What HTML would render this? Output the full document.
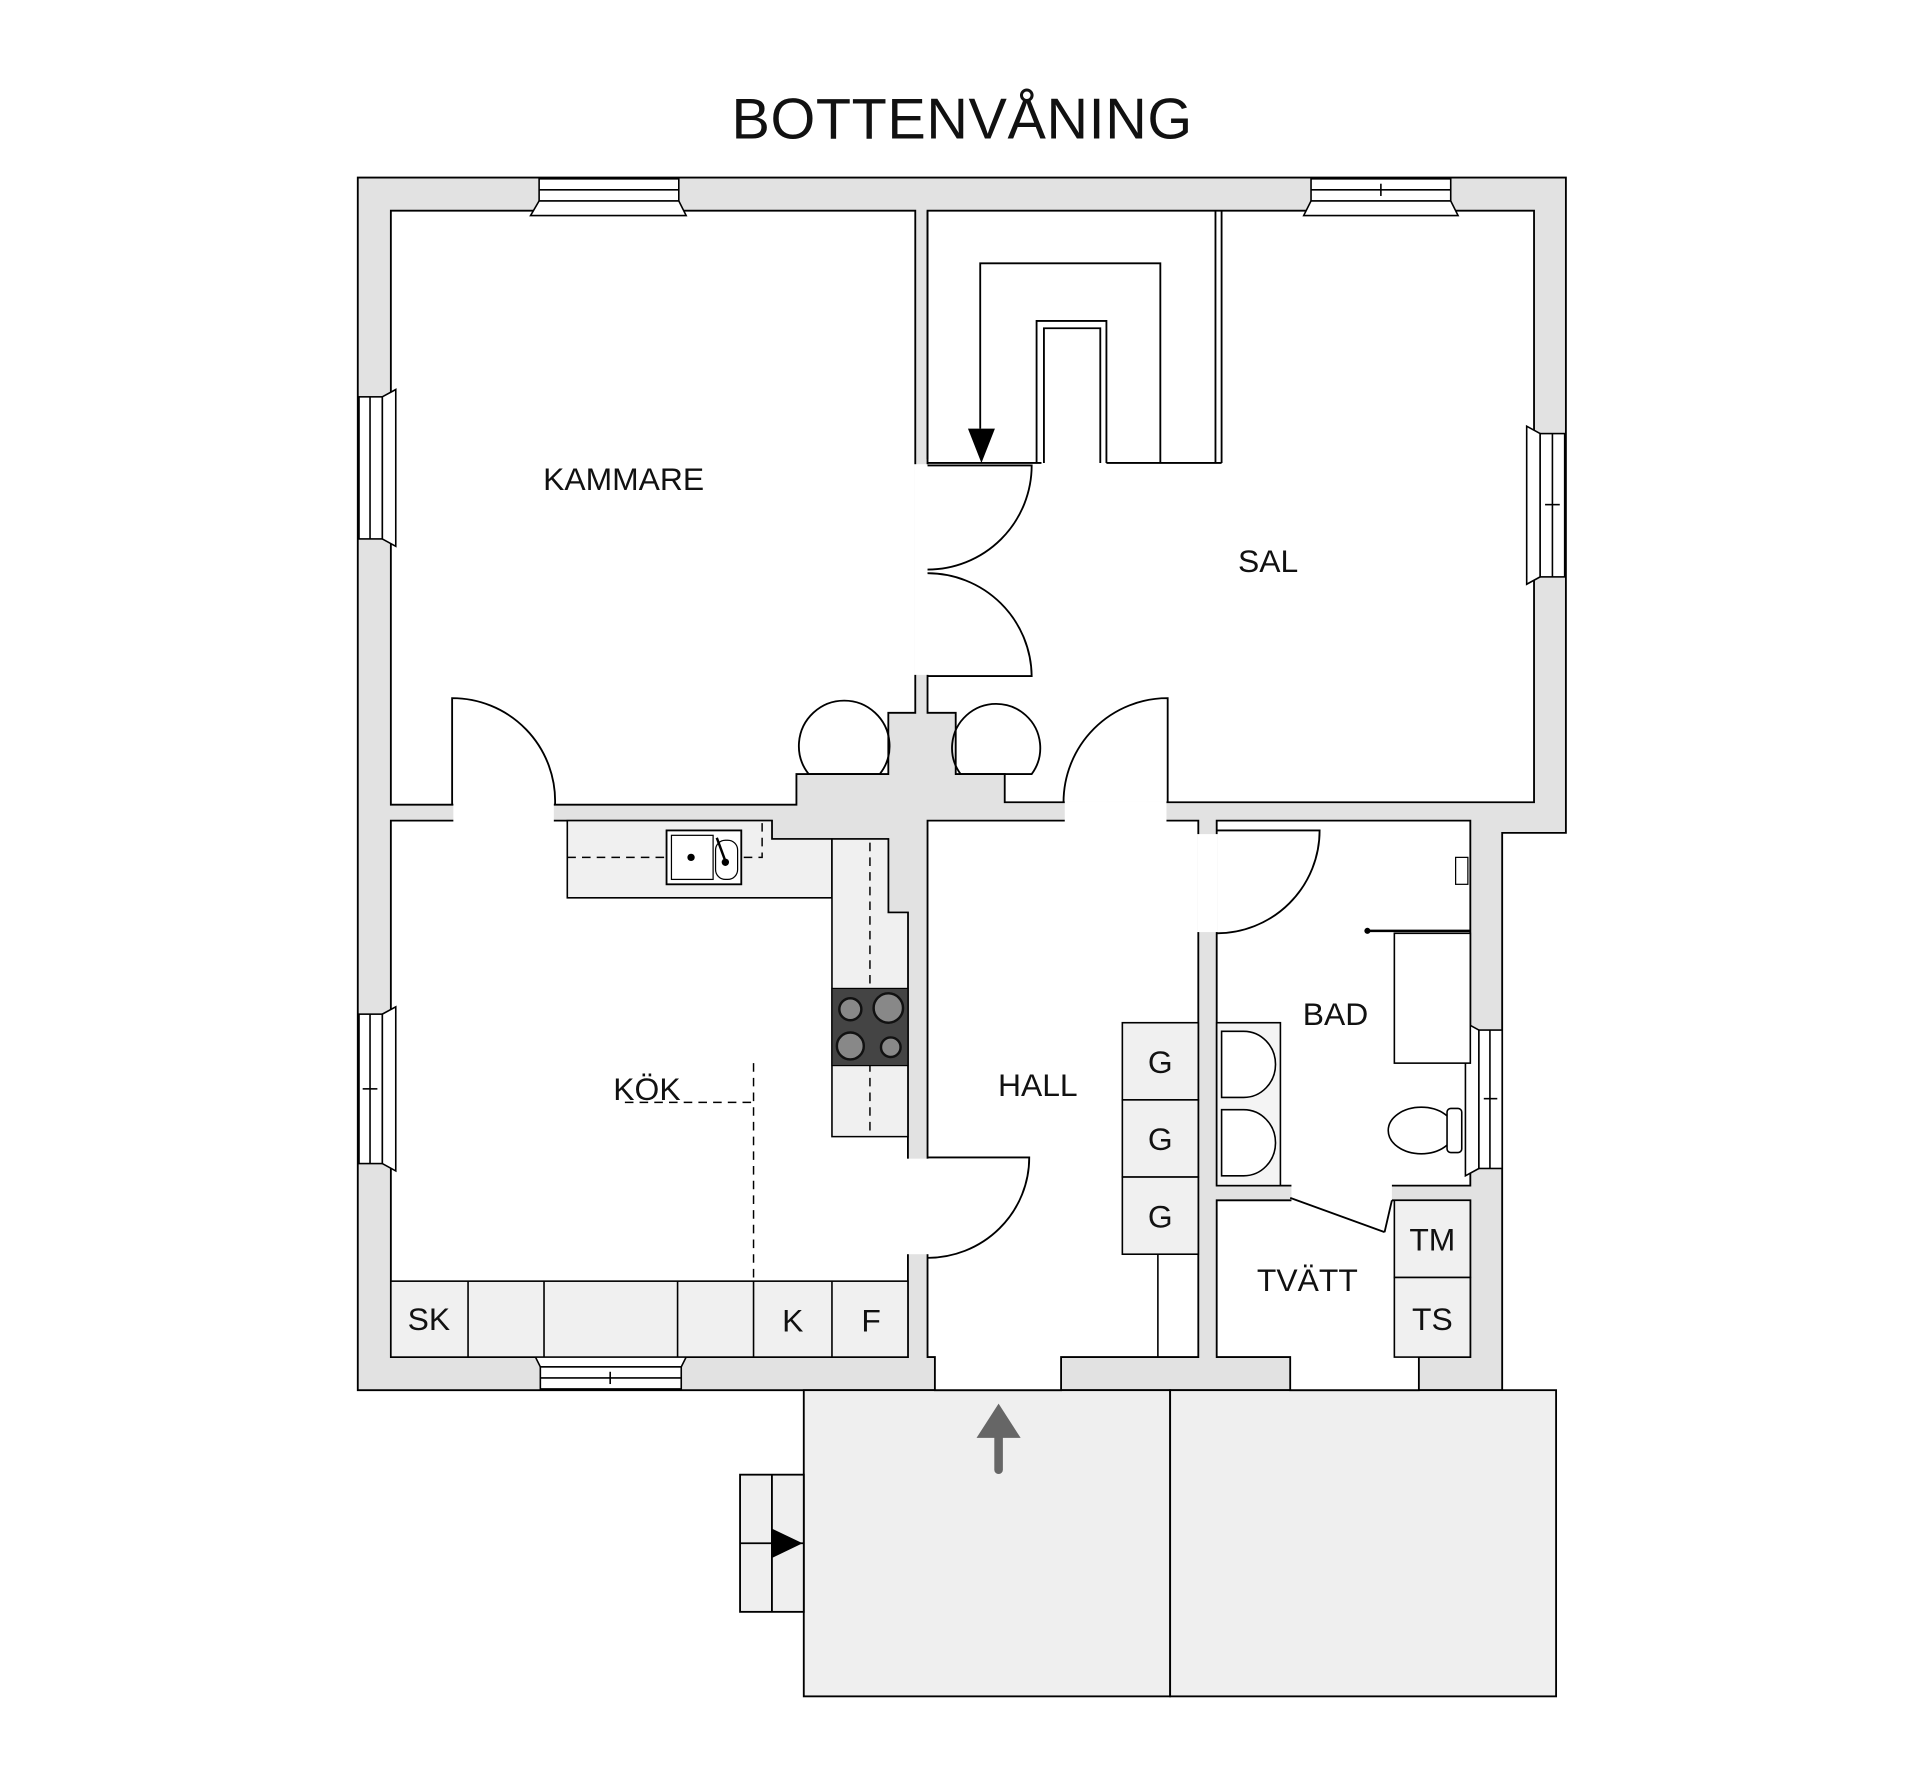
<!DOCTYPE html>
<html><head><meta charset="utf-8"><style>
html,body{margin:0;padding:0;background:#fff;}
svg{display:block;}
text{font-family:"Liberation Sans",sans-serif;fill:#111;}
</style></head><body>
<svg width="1920" height="1787" viewBox="0 0 1567 1459" preserveAspectRatio="none" xmlns="http://www.w3.org/2000/svg">
<rect width="1567" height="1459" fill="#fff"/>
<text x="785" y="113" font-size="47" text-anchor="middle" textLength="376">BOTTENVÅNING</text>

<polygon points="292,145 1278,145 1278,680 1226,680 1226,1135 292,1135" fill="#e2e2e2" stroke="#000" stroke-width="1.5"/>

<rect x="656" y="1135" width="299" height="250" fill="#efefef" stroke="#000" stroke-width="1.5"/>
<rect x="955" y="1135" width="315" height="250" fill="#efefef" stroke="#000" stroke-width="1.5"/>
<rect x="604" y="1204" width="52" height="112" fill="#efefef" stroke="#000" stroke-width="1.5"/>
<line x1="630" y1="1204" x2="630" y2="1316" stroke="#000" stroke-width="1.5"/>
<line x1="604" y1="1260" x2="656" y2="1260" stroke="#000" stroke-width="1.5"/>
<polygon points="630,1248 630,1272 655,1260" fill="#000"/>
<line x1="815" y1="1200" x2="815" y2="1168" stroke="#666" stroke-width="7" stroke-linecap="round"/>
<polygon points="797,1174 833,1174 815,1146" fill="#666"/>

<g fill="#fff" stroke="#000" stroke-width="1.5">
<polygon points="319,172 747,172 747,582 725,582 725,632 650,632 650,657 319,657"/>
<polygon points="757,172 1252,172 1252,655 820,655 820,632 780,632 780,582 757,582"/>
<polygon points="319,670 630,670 630,685 725,685 725,745 741,745 741,1108 319,1108"/>
<polygon points="757,670 978,670 978,1108 866,1108 866,1135 763,1135 763,1108 757,1108"/>
<polygon points="993,670 1200,670 1200,968 993,968"/>
<polygon points="993,980 1200,980 1200,1108 1158,1108 1158,1135 1053,1135 1053,1108 993,1108"/>
</g>

<g fill="#fff">
<rect x="746" y="379" width="12" height="172"/>
<rect x="370" y="656" width="82" height="15"/>
<rect x="869" y="654" width="83" height="17"/>
<rect x="740" y="946" width="18" height="78"/>
<rect x="977" y="681" width="17" height="80"/>
<rect x="1054" y="967" width="82" height="14"/>
<rect x="764" y="1107" width="101" height="27"/>
<rect x="1054" y="1107" width="103" height="27"/>
</g>

<g fill="none" stroke="#000" stroke-width="1.5">
<path d="M757,380 L842,380 A85,85 0 0 1 757,465"/>
<path d="M757,468 A85,85 0 0 1 842,552 L757,552"/>
<path d="M369,657 L369,570 A84,84 0 0 1 453,657"/>
<path d="M953,655 L953,570 A85,85 0 0 0 868,655"/>
<path d="M757,945 L840,945 A83,82 0 0 1 757,1027"/>
<path d="M993,678 L1077,678 A84,84 0 0 1 993,762"/>
<line x1="1053" y1="978" x2="1130" y2="1006"/>
<line x1="1130" y1="1006" x2="1136" y2="980"/>
<path d="M660,632 A37,37 0 1 1 718,632 Z"/>
<path d="M784,632 A36,36 0 1 1 842,632 Z"/>
</g>

<g fill="none" stroke="#000" stroke-width="1.5">
<line x1="757" y1="378" x2="850" y2="378"/>
<line x1="757" y1="375" x2="757" y2="172"/>
<line x1="903" y1="378" x2="997" y2="378"/>
<line x1="992" y1="172" x2="992" y2="378"/>
<line x1="997" y1="172" x2="997" y2="378"/>
<polyline points="800,350 800,215 947,215 947,378"/>
<polyline points="846,378 846,262 903,262 903,378"/>
<polyline points="852,378 852,268 898,268 898,378"/>
</g>
<polygon points="790,350 812,350 801,378" fill="#000"/>

<g fill="#fff" stroke="#000" stroke-width="1.3">
<polygon points="433,176 560,176 554,164 440,164"/><rect x="440" y="146" width="114" height="18"/><line x1="440" y1="155" x2="554" y2="155"/>
<polygon points="1064,176 1190,176 1184,164 1070,164"/><rect x="1070" y="146" width="114" height="18"/><line x1="1070" y1="155" x2="1184" y2="155"/><line x1="1127" y1="150" x2="1127" y2="160"/>
<polygon points="323,318 323,446 312,440 312,324"/><rect x="293" y="324" width="19" height="116"/><line x1="302" y1="324" x2="302" y2="440"/>
<polygon points="323,822 323,956 312,950 312,828"/><rect x="293" y="828" width="19" height="122"/><line x1="302" y1="828" x2="302" y2="950"/><line x1="296" y1="889" x2="308" y2="889"/>
<polygon points="1246,348 1246,477 1257,471 1257,354"/><rect x="1257" y="354" width="20" height="117"/><line x1="1267" y1="354" x2="1267" y2="471"/><line x1="1261" y1="412" x2="1273" y2="412"/>
<polygon points="1196,835 1196,960 1207,954 1207,841"/><rect x="1207" y="841" width="19" height="113"/><line x1="1216" y1="841" x2="1216" y2="954"/><line x1="1211" y1="897" x2="1222" y2="897"/>
<polygon points="435,1104 562,1104 556,1116 441,1116"/><rect x="441" y="1116" width="115" height="18"/><line x1="441" y1="1125" x2="556" y2="1125"/><line x1="498" y1="1120" x2="498" y2="1130"/>
</g>

<g fill="#f0f0f0" stroke="#000" stroke-width="1.3">
<polygon points="463,670 630,670 630,685 679,685 679,733 463,733"/>
<polygon points="679,685 725,685 725,745 741,745 741,928 679,928"/>
<rect x="319" y="1046" width="422" height="62"/>
</g>
<g stroke="#000" stroke-width="1.3">
<line x1="382" y1="1046" x2="382" y2="1108"/><line x1="444" y1="1046" x2="444" y2="1108"/>
<line x1="553" y1="1046" x2="553" y2="1108"/><line x1="615" y1="1046" x2="615" y2="1108"/>
<line x1="679" y1="1046" x2="679" y2="1108"/>
</g>
<g fill="none" stroke="#000" stroke-width="1.2" stroke-dasharray="7,5">
<polyline points="463,700 622,700 622,672"/>
<line x1="710" y1="688" x2="710" y2="928"/>
<line x1="615" y1="868" x2="615" y2="1046"/>
<line x1="510" y1="900" x2="615" y2="900"/>
</g>
<rect x="544" y="678" width="61" height="44" fill="#fff" stroke="#000" stroke-width="1.5"/>
<rect x="548" y="682" width="34" height="36" fill="#fff" stroke="#000" stroke-width="1"/>
<rect x="584" y="686" width="18" height="32" rx="8" fill="#fff" stroke="#000" stroke-width="1"/>
<circle cx="564" cy="700" r="3" fill="#000"/><circle cx="592" cy="704" r="3" fill="#000"/>
<line x1="585" y1="684" x2="592" y2="703" stroke="#000" stroke-width="2"/>
<rect x="679" y="807" width="62" height="63" fill="#444" stroke="#000"/>
<g fill="#888" stroke="#111" stroke-width="2">
<circle cx="694" cy="824" r="9"/><circle cx="725" cy="823" r="12"/>
<circle cx="694" cy="854" r="11"/><circle cx="727" cy="855" r="8"/>
</g>

<g fill="#f0f0f0" stroke="#000" stroke-width="1.3">
<rect x="916" y="835" width="62" height="63"/><rect x="916" y="898" width="62" height="63"/><rect x="916" y="961" width="62" height="63"/>
<rect x="1138" y="980" width="62" height="63"/><rect x="1138" y="1043" width="62" height="65"/>
</g>
<line x1="945" y1="1024" x2="945" y2="1108" stroke="#000" stroke-width="1.3"/>

<g fill="#fff" stroke="#000" stroke-width="1.3">
<rect x="993" y="835" width="52" height="133" fill="#f4f4f4"/>
<path d="M997,842 L1015,842 A26,27 0 0 1 1015,896 L997,896 Z"/>
<path d="M997,906 L1015,906 A26,27 0 0 1 1015,960 L997,960 Z"/>
<rect x="1138" y="762" width="62" height="106" fill="#fff"/>
<ellipse cx="1160" cy="923" rx="27" ry="19"/>
<rect x="1181" y="905" width="12" height="36" rx="3"/>
</g>
<line x1="1115" y1="760" x2="1200" y2="760" stroke="#000" stroke-width="2"/>
<circle cx="1116" cy="760" r="2.5" fill="#000"/>
<rect x="1188" y="700" width="10" height="22" fill="#fff" stroke="#000"/>

<g font-size="26">
<text x="509" y="400" text-anchor="middle">KAMMARE</text>
<text x="1035" y="467" text-anchor="middle">SAL</text>
<text x="528" y="898" text-anchor="middle">KÖK</text>
<text x="847" y="895" text-anchor="middle">HALL</text>
<text x="1090" y="837" text-anchor="middle">BAD</text>
<text x="1067" y="1054" text-anchor="middle">TVÄTT</text>
<text x="947" y="876" text-anchor="middle">G</text>
<text x="947" y="939" text-anchor="middle">G</text>
<text x="947" y="1002" text-anchor="middle">G</text>
<text x="1169" y="1021" text-anchor="middle">TM</text>
<text x="1169" y="1086" text-anchor="middle">TS</text>
<text x="350" y="1086" text-anchor="middle">SK</text>
<text x="647" y="1087" text-anchor="middle">K</text>
<text x="711" y="1087" text-anchor="middle">F</text>
</g>
</svg>
</body></html>
